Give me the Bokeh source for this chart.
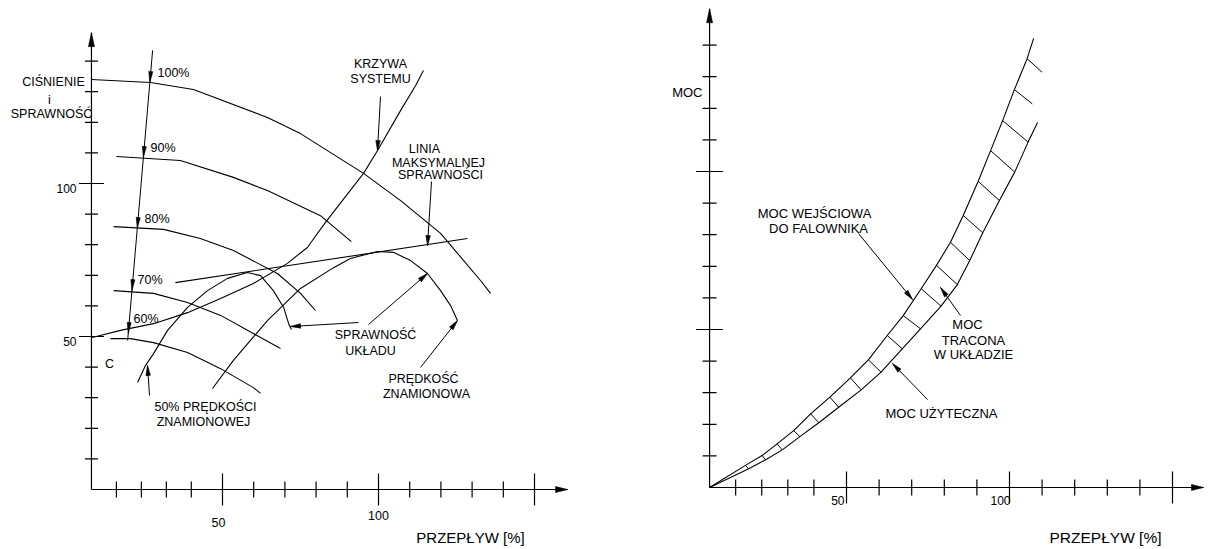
import math
from bokeh.plotting import figure
from bokeh.layouts import row
from bokeh.models import Range1d
from bokeh.core.properties import value
from bokeh.embed import file_html
from bokeh.resources import INLINE

FONT = value("Liberation Sans")

# ---------------- DATA ----------------
# common axes (flow in %, level in %)
flow_ticks = [16, 24, 32, 40, 50, 60, 70, 80, 90, 100, 110, 120, 130, 140, 150]
flow_major = [50, 100, 150]
level_ticks = [10, 20, 30, 40, 50, 60, 70, 80, 90, 100, 110, 120, 130, 140]
level_major = [50, 100]
axis_origin_flow = 8.0

# left panel: pressure curves at different speeds
h100_flow = [8.0, 26.9, 40.7, 64.4, 75.0, 95.2, 107.1, 119.9, 132.7, 135.9]
h100_level = [134.0, 133.0, 130.7, 121.6, 116.3, 103.3, 94.4, 83.7, 68.3, 64.1]
h90_flow = [16.0, 36.5, 53.5, 64.4, 81.4, 91.3]
h90_level = [108.8, 107.5, 102.0, 97.7, 89.5, 81.0]
h80_flow = [15.1, 31.1, 42.9, 53.5, 67.6, 75.0, 79.8]
h80_level = [85.9, 85.0, 82.0, 78.1, 70.6, 64.1, 58.5]
h70_flow = [15.1, 27.9, 38.8, 49.4, 59.9, 68.6]
h70_level = [65.0, 64.1, 61.1, 56.9, 51.0, 46.1]
h60_flow = [14.1, 20.5, 27.9, 38.8, 49.4, 59.9, 62.2]
h60_level = [49.3, 49.3, 48.0, 44.8, 39.5, 33.3, 31.4]
# system curve
system_flow = [8.3, 17.3, 27.9, 38.8, 49.4, 59.9, 70.8, 77.2, 83.0, 95.2, 99.7, 107.1, 111.9, 114.4]
system_level = [49.7, 52.0, 54.2, 57.8, 62.4, 67.3, 73.9, 79.1, 87.3, 103.3, 110.8, 123.9, 132.0, 136.9]
# line of maximum efficiency
bep_flow = [34.9, 128.5]
bep_level = [67.6, 82.0]
# efficiency at 50% speed and at rated speed
eff50_flow = [22.8, 25.3, 27.9, 32.4, 38.8, 45.2, 51.6, 58.0, 62.2, 66.3, 69.6, 71.2, 72.1]
eff50_level = [35.0, 40.5, 44.4, 52.0, 59.5, 65.0, 69.0, 70.9, 69.9, 65.0, 59.5, 54.2, 52.3]
eff100_flow = [46.8, 53.5, 64.4, 75.0, 85.6, 91.0, 99.7, 104.8, 110.3, 115.7, 119.9, 123.1, 125.3]
eff100_level = [33.0, 42.2, 55.2, 65.7, 72.5, 75.5, 77.8, 77.5, 74.8, 70.6, 65.0, 60.1, 55.2]
# speed-reduction arrow line
speed_line_flow = [27.6, 19.6]
speed_line_level = [143.5, 48.7]
speed_labels = ["100%", "90%", "80%", "70%", "60%"]
speed_tip_level = [133.0, 108.5, 85.3, 65.0, 51.0]

# right panel: power curves
input_flow = [8.0, 19.0, 24.1, 28.7, 33.8, 39.0, 44.9, 51.2, 56.7, 62.5, 67.4, 72.9,
              77.6, 81.9, 85.8, 90.4, 94.2, 97.9, 101.5, 105.4, 107.4]
input_power = [0.0, 7.0, 10.1, 13.8, 18.0, 23.3, 28.6, 34.7, 40.4, 48.1, 54.4, 62.9,
               70.3, 77.6, 86.1, 96.9, 106.6, 116.1, 125.9, 135.7, 142.1]
loss_end_flow = [20.0, 25.2, 30.3, 35.7, 41.5, 47.6, 54.5, 60.6, 67.1, 72.7, 79.0, 84.0,
                 87.8, 91.8, 96.9, 101.6, 105.7, 107.0, 110.0]
loss_end_power = [5.9, 8.8, 11.9, 16.1, 20.5, 25.4, 30.9, 36.5, 43.9, 50.2, 57.4, 64.2,
                  71.8, 80.6, 90.8, 99.8, 109.3, 121.4, 131.4]
useful_flow = [8.0] + loss_end_flow[:17] + [108.6]
useful_power = [0.0] + loss_end_power[:17] + [115.5]

# ---------------- LAYOUT ----------------
H = 547
TOP = 0


class Panel:
    def __init__(self, xr, yr, w, left):
        p = figure(width=w, height=H, x_range=Range1d(*xr), y_range=Range1d(*yr),
                   output_backend="svg", toolbar_location=None, min_border=0,
                   x_axis_type=None, y_axis_type=None)
        p.outline_line_color = None
        p.grid.visible = False
        p.background_fill_color = "white"
        p.border_fill_color = "white"
        self.p = p
        self.xr, self.yr, self.left = xr, yr, left
        self.sx = w / (xr[1] - xr[0])
        self.sy = H / (yr[1] - yr[0])

    def d(self, X, Y):
        return (X - self.left) / self.sx + self.xr[0], self.yr[1] - (Y - TOP) / self.sy

    def px(self, x, y):
        return self.left + (x - self.xr[0]) * self.sx, TOP + (self.yr[1] - y) * self.sy

    def head(self, tip, frm, L=10, W=4.5):
        (tx, ty), (fx, fy) = tip, frm
        dx, dy = tx - fx, ty - fy
        n = math.hypot(dx, dy)
        ux, uy = dx / n, dy / n
        bx, by = tx - L * ux, ty - L * uy
        pts = [(tx, ty), (bx - W / 2 * uy, by + W / 2 * ux), (bx + W / 2 * uy, by - W / 2 * ux)]
        xs, ys = zip(*[self.d(*q) for q in pts])
        self.p.patch(list(xs), list(ys), fill_color="black", line_color="black", line_width=0.6)

    def leader(self, frm, tip, L=10, W=4.5):
        (x0, y0), (x1, y1) = self.d(*frm), self.d(*tip)
        self.p.line([x0, x1], [y0, y1], color="black", line_width=1)
        self.head(tip, frm, L, W)

    def label(self, X, Y, txt, size="12.5px", align="center"):
        x, y = self.d(X, Y)
        self.p.text([x], [y], text=[txt], text_font=FONT, text_font_size=size,
                    text_align=align, text_baseline="middle", text_color="black")

    def axes(self, x_end, y_end, yt=(6.5, 12.5), xt=(8, 16)):
        p = self.p
        o = axis_origin_flow
        p.line([o, x_end], [0, 0], color="black", line_width=1.2)
        p.line([o, o], [0, y_end], color="black", line_width=1.2)
        self.head(self.px(x_end, 0), self.px(x_end - 10, 0), L=12, W=6)
        self.head(self.px(o, y_end), self.px(o, y_end - 10), L=14, W=6)
        hx = [(yt[1] if v in level_major else yt[0]) / self.sx for v in level_ticks]
        p.segment(x0=[o - h for h in hx], x1=[o + h for h in hx], y0=level_ticks, y1=level_ticks,
                  color="black", line_width=1.2)
        hy = [(xt[1] if f in flow_major else xt[0]) / self.sy for f in flow_ticks]
        p.segment(x0=flow_ticks, x1=flow_ticks, y0=[-h for h in hy], y1=hy,
                  color="black", line_width=1.2)


def curve(P, xs, ys, w=1.1):
    P.p.line(xs, ys, color="black", line_width=w)


# ---------------- LEFT PANEL ----------------
A = Panel((-21.15, 183.97), (-18.95, 159.8), 640, 0)
A.axes(160.6, 149.3)
for fx, fy in [(h100_flow, h100_level), (h90_flow, h90_level), (h80_flow, h80_level),
               (h70_flow, h70_level), (h60_flow, h60_level), (system_flow, system_level),
               (bep_flow, bep_level), (eff50_flow, eff50_level), (eff100_flow, eff100_level)]:
    curve(A, fx, fy)

curve(A, speed_line_flow, speed_line_level, 1.0)
frm_px = A.px(speed_line_flow[0], speed_line_level[0])
for lv in speed_tip_level:
    t = (lv - speed_line_level[0]) / (speed_line_level[1] - speed_line_level[0])
    fl = speed_line_flow[0] + t * (speed_line_flow[1] - speed_line_flow[0])
    A.head(A.px(fl, lv), frm_px, L=11, W=4)

for txt, X, Y in zip(speed_labels, [157, 150, 144, 137, 133], [72, 147, 218, 279, 318]):
    A.label(X, Y, txt, align="left")

A.label(53, 81, "CIŚNIENIE")
A.label(49, 99, "i")
A.label(51, 113, "SPRAWNOŚĆ")
A.label(76, 188, "100", size="12px", align="right")
A.label(76, 341, "50", size="12px", align="right")
A.label(109, 363, "C")
A.label(218, 522, "50", size="12.5px")
A.label(378, 515, "100", size="12.5px")
A.label(470, 537, "PRZEPŁYW [%]", size="15px")

A.label(380, 63, "KRZYWA")
A.label(380, 78, "SYSTEMU")
A.leader((380, 96), (377, 150))
A.label(424, 148, "LINIA")
A.label(438, 162, "MAKSYMALNEJ")
A.label(440, 174, "SPRAWNOŚCI")
A.leader((431, 181), (427, 245))
A.label(375, 334, "SPRAWNOŚĆ")
A.label(370, 350, "UKŁADU")
A.leader((368, 324), (427, 273))
A.leader((358, 322), (290, 326))
A.label(423, 378, "PRĘDKOŚĆ")
A.label(426, 393, "ZNAMIONOWA")
A.leader((420, 367), (457, 320))
A.label(205, 406, "50% PRĘDKOŚCI")
A.label(203, 421, "ZNAMIONOWEJ")
A.leader((149, 395), (147, 365))

# ---------------- RIGHT PANEL ----------------
B = Panel((-13.19, 160.43), (-18.99, 154.11), 566, 640)
B.axes(159.5, 151.5, yt=(7, 13.5), xt=(8, 16))
curve(B, input_flow, input_power)
curve(B, useful_flow, useful_power)
B.p.segment(x0=input_flow[1:20], y0=input_power[1:20], x1=loss_end_flow, y1=loss_end_power,
            color="black", line_width=1.0)

B.label(702, 92, "MOC", size="13px", align="right")
B.label(844, 500, "50", size="12px", align="right")
B.label(1000, 500, "100", size="12px")
B.label(1105, 537, "PRZEPŁYW [%]", size="15.5px")
B.label(814, 213, "MOC WEJŚCIOWA", size="13px")
B.label(818, 228, "DO FALOWNIKA", size="13px")
B.leader((858, 233), (912, 299))
B.label(967, 324, "MOC", size="13px")
B.label(973, 340, "TRACONA", size="13px")
B.label(973, 354, "W UKŁADZIE", size="13px")
B.leader((960, 315), (940, 287))
B.label(941, 413, "MOC UŻYTECZNA", size="13px")
B.leader((927, 399), (892, 363))

layout = row(A.p, B.p, spacing=0)
open("out.html", "w").write(file_html(layout, INLINE))
